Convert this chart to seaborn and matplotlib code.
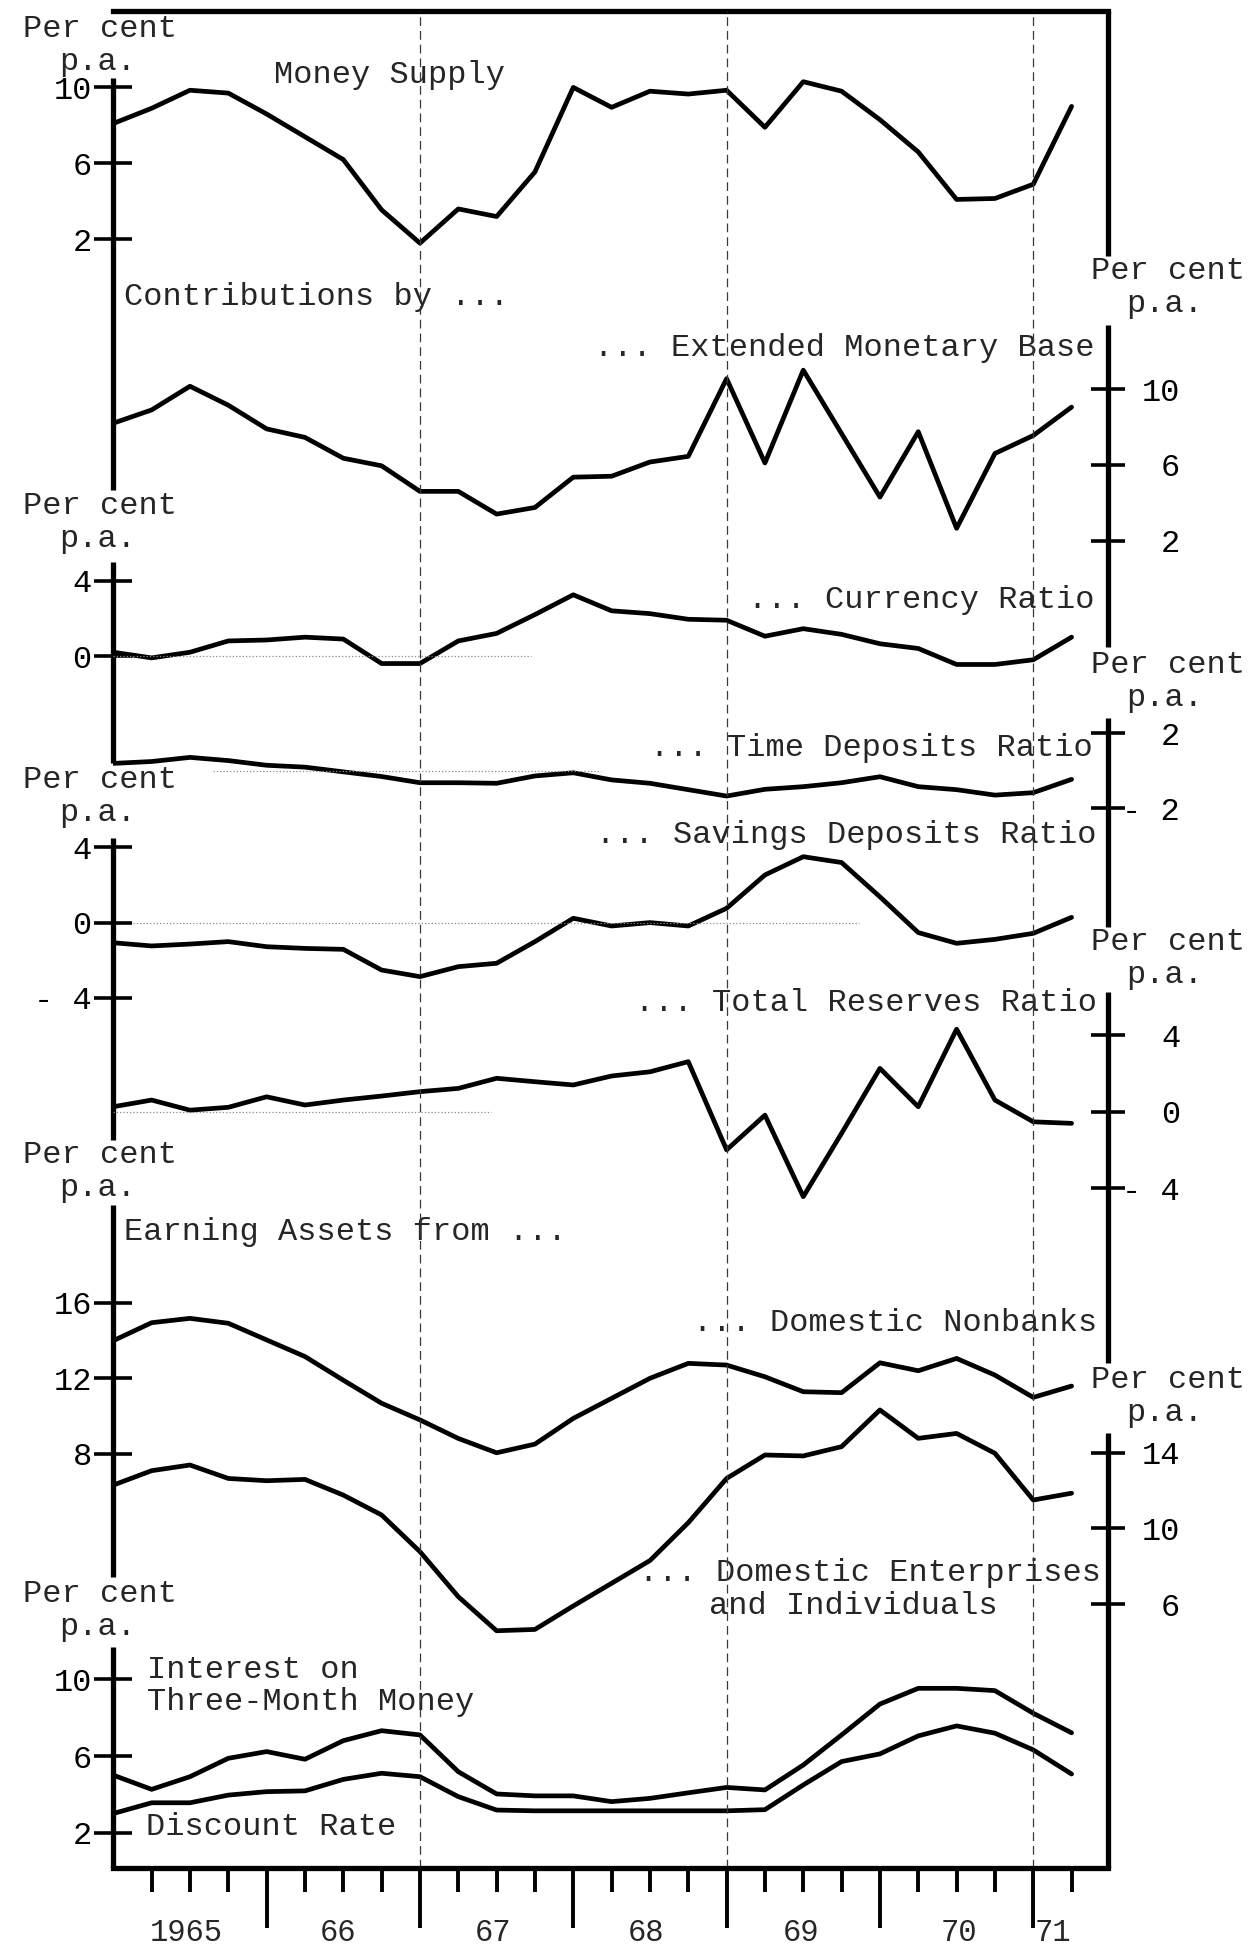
import numpy as np
import pandas as pd
import matplotlib.pyplot as plt
import seaborn as sns

# quarter number: 0 = 1965 Q1 ... 25 = 1971 Q2
quarter = list(range(26))

money_supply = [8.1, 8.9, 9.85, 9.7, 8.6, 7.4, 6.2, 3.55, 1.8, 3.6, 3.2, 5.55, 10.0,
                8.95, 9.8, 9.65, 9.85, 7.9, 10.3, 9.8, 8.3, 6.6, 4.1, 4.15, 4.9, 9.0]
ext_monetary_base = [8.2, 8.9, 10.15, 9.15, 7.9, 7.45, 6.35, 5.95, 4.6, 4.6, 3.4, 3.75, 5.35,
                     5.4, 6.15, 6.45, 10.55, 6.1, 11.0, 7.65, 4.3, 7.75, 2.65, 6.6, 7.55, 9.05]
currency_ratio = [0.2, -0.1, 0.2, 0.8, 0.85, 1.0, 0.9, -0.4, -0.4, 0.8, 1.2, 2.2, 3.25,
                  2.4, 2.25, 1.95, 1.9, 1.05, 1.45, 1.15, 0.65, 0.4, -0.45, -0.45, -0.2, 1.0]
time_deposits_ratio = [0.4, 0.5, 0.72, 0.55, 0.3, 0.2, -0.05, -0.3, -0.63, -0.63, -0.66, -0.27, -0.1,
                       -0.48, -0.66, -1.0, -1.34, -0.98, -0.84, -0.63, -0.31, -0.84, -1.0, -1.29, -1.16, -0.45]
savings_deposits_ratio = [-1.07, -1.24, -1.14, -1.01, -1.28, -1.37, -1.42, -2.52, -2.87, -2.34, -2.16, -1.01, 0.23,
                          -0.18, 0.0, -0.18, 0.76, 2.53, 3.5, 3.19, 1.37, -0.53, -1.1, -0.89, -0.57, 0.28]
total_reserves_ratio = [0.26, 0.61, 0.08, 0.23, 0.78, 0.35, 0.61, 0.82, 1.05, 1.22, 1.75, 1.57, 1.4,
                        1.87, 2.09, 2.62, -2.0, -0.18, -4.45, -1.13, 2.27, 0.26, 4.32, 0.61, -0.53, -0.61]
assets_nonbanks = [13.99, 14.94, 15.17, 14.91, 14.03, 13.15, 11.9, 10.68, 9.8, 8.82, 8.06, 8.52, 9.88,
                   10.94, 12.0, 12.79, 12.7, 12.08, 11.29, 11.24, 12.82, 12.4, 13.05, 12.17, 10.99, 11.59]
assets_enterprises = [12.29, 13.05, 13.35, 12.64, 12.52, 12.59, 11.76, 10.71, 8.77, 6.39, 4.59, 4.66, 5.9,
                      7.1, 8.3, 10.3, 12.64, 13.88, 13.83, 14.32, 16.26, 14.76, 15.02, 13.97, 11.5, 11.86]
three_month_money = [5.0, 4.26, 4.92, 5.88, 6.23, 5.83, 6.8, 7.32, 7.1, 5.18, 4.02, 3.92, 3.92,
                     3.62, 3.79, 4.08, 4.36, 4.23, 5.53, 7.1, 8.71, 9.53, 9.53, 9.41, 8.23, 7.21]
discount_rate = [3.0, 3.56, 3.56, 3.96, 4.14, 4.18, 4.78, 5.1, 4.92, 3.88, 3.18, 3.14, 3.14,
                 3.14, 3.14, 3.14, 3.14, 3.2, 4.49, 5.71, 6.11, 7.05, 7.57, 7.19, 6.32, 5.06]

year_labels = ["1965", "66", "67", "68", "69", "70", "71"]
year_label_pos = [1.9, 5.85, 9.9, 13.9, 17.95, 22.05, 24.5]

df = pd.DataFrame({
    "quarter": quarter,
    "money": money_supply, "emb": ext_monetary_base, "currency": currency_ratio,
    "time": time_deposits_ratio, "savings": savings_deposits_ratio,
    "reserves": total_reserves_ratio, "nonbanks": assets_nonbanks,
    "enterprises": assets_enterprises, "three_month": three_month_money,
    "discount": discount_rate,
})

# page geometry in pixels
W, H, DPI = 1257, 1951, 100
LEFT, RIGHT, TOP, BOTTOM = 113.3, 1108.0, 11.0, 1868.0
Q_RIGHT = 25.95
FS = 23
LW = 3.4

sns.set_theme(style="white")
plt.rcParams["font.family"] = ["Liberation Mono", "DejaVu Sans Mono"]

fig = plt.figure(figsize=(W / DPI, H / DPI), dpi=DPI)
rect = [LEFT / W, 1 - BOTTOM / H, (RIGHT - LEFT) / W, (BOTTOM - TOP) / H]

# background axes in pixel units for frame pieces and texts
bg = fig.add_axes([0, 0, 1, 1])
bg.set_xlim(0, W)
bg.set_ylim(H, 0)
bg.axis("off")


def panel(cols, side, v0, y0, scale, ticks, labels, zero=None):
    ax = fig.add_axes(rect)
    ax.patch.set_visible(False)
    for c in cols:
        sns.lineplot(data=df, x="quarter", y=c, ax=ax, color="black",
                     linewidth=LW, solid_joinstyle="round")
    ax.set_xlim(0, Q_RIGHT)
    # value v0 sits at pixel y0, "scale" pixels per unit
    ax.set_ylim(v0 - (BOTTOM - y0) / scale, v0 + (y0 - TOP) / scale)
    for s in ax.spines.values():
        s.set_visible(False)
    ax.set(xlabel="", ylabel="")
    ax.tick_params(axis="x", bottom=False, top=False, labelbottom=False)
    ax.set_yticks(ticks, labels)
    if side == "left":
        ax.yaxis.tick_left()
        ax.tick_params(axis="y", left=True, direction="inout", length=28, width=2.6,
                       pad=1.5, labelsize=FS, colors="black")
    else:
        ax.yaxis.tick_right()
        ax.tick_params(axis="y", right=True, direction="inout", length=25, width=2.6,
                       pad=39.5, labelsize=FS, colors="black")
        for t in ax.get_yticklabels():
            t.set_ha("right")
    if zero is not None:
        ax.axhline(0, xmin=zero[0], xmax=zero[1], color="#8a8a8a", lw=0.9, ls=":")
    return ax


ax1 = panel(["money"], "left", 10, 87.4, 18.99, [10, 6, 2], ["10", "6", "2"])
panel(["emb"], "right", 10, 389.1, 18.94, [10, 6, 2], ["10", "6", "2"])
panel(["currency"], "left", 0, 656.0, 18.83, [4, 0], ["4", "0"], zero=(0, 0.42))
panel(["time"], "right", 0, 770.9, 18.77, [2, -2], ["2", "- 2"], zero=(0.1, 0.49))
panel(["savings"], "left", 0, 922.6, 18.83, [4, 0, -4], ["4", "0", "- 4"], zero=(0.02, 0.75))
panel(["reserves"], "right", 0, 1111.7, 19.09, [4, 0, -4], ["4", "0", "- 4"], zero=(0, 0.38))
panel(["nonbanks"], "left", 12, 1378.3, 18.91, [16, 12, 8], ["16", "12", "8"])
panel(["enterprises"], "right", 10, 1528.4, 18.92, [14, 10, 6], ["14", "10", "6"])
ax9 = panel(["three_month", "discount"], "left", 6, 1756.0, 19.17, [10, 6, 2], ["10", "6", "2"])

# top rule and bottom time axis
ax1.spines["top"].set_visible(True)
ax1.spines["top"].set_linewidth(3.8)
ax1.spines["top"].set_color("black")
ax9.spines["bottom"].set_visible(True)
ax9.spines["bottom"].set_linewidth(3.8)
ax9.spines["bottom"].set_color("black")
ax9.set_xticks([4, 8, 12, 16, 20, 24])
ax9.set_xticks([q for q in quarter if q % 4 != 0], minor=True)
ax9.tick_params(axis="x", which="major", bottom=True, direction="out", length=43,
                width=2.8, labelbottom=False, color="black")
ax9.tick_params(axis="x", which="minor", bottom=True, direction="out", length=17,
                width=2.8, labelbottom=False, color="black")
for pos, lab in zip(year_label_pos, year_labels):
    ax9.text(pos, -0.035, lab, transform=ax9.get_xaxis_transform(),
             ha="center", va="center", fontsize=FS - 1)
for q in [8, 16, 24]:
    ax9.axvline(q, color="#3a3a3a", lw=0.9, ls=(0, (7, 4)))

# broken left and right spines (gaps leave room for the unit labels)
for y_a, y_b in [(78, 490), (562, 763), (838, 1140), (1205, 1577), (1647, 1868)]:
    bg.plot([LEFT, LEFT], [y_a, y_b], color="black", lw=3.8, solid_capstyle="butt")
for y_a, y_b in [(11, 256), (325, 647), (718, 927), (992, 1363), (1433, 1868)]:
    bg.plot([RIGHT, RIGHT], [y_a, y_b], color="black", lw=3.8, solid_capstyle="butt")

# unit labels
for yc in [29, 506, 780, 1155, 1594]:
    bg.text(100, yc, "Per cent", ha="center", va="center", fontsize=FS)
    bg.text(98, yc + 33, "p.a.", ha="center", va="center", fontsize=FS)
for yc in [271, 665, 942, 1380]:
    bg.text(1168, yc, "Per cent", ha="center", va="center", fontsize=FS)
    bg.text(1165, yc + 33, "p.a.", ha="center", va="center", fontsize=FS)

# series titles
bg.text(274, 75, "Money Supply", ha="left", va="center", fontsize=FS)
bg.text(124, 297, "Contributions by ...", ha="left", va="center", fontsize=FS)
bg.text(1095, 348, "... Extended Monetary Base", ha="right", va="center", fontsize=FS)
bg.text(1095, 600, "... Currency Ratio", ha="right", va="center", fontsize=FS)
bg.text(1093, 748, "... Time Deposits Ratio", ha="right", va="center", fontsize=FS)
bg.text(1097, 835, "... Savings Deposits Ratio", ha="right", va="center", fontsize=FS)
bg.text(1097, 1003, "... Total Reserves Ratio", ha="right", va="center", fontsize=FS)
bg.text(124, 1232, "Earning Assets from ...", ha="left", va="center", fontsize=FS)
bg.text(1097, 1323, "... Domestic Nonbanks", ha="right", va="center", fontsize=FS)
bg.text(1101, 1573, "... Domestic Enterprises", ha="right", va="center", fontsize=FS)
bg.text(709, 1606, "and Individuals", ha="left", va="center", fontsize=FS)
bg.text(147, 1670, "Interest on", ha="left", va="center", fontsize=FS)
bg.text(147, 1702, "Three-Month Money", ha="left", va="center", fontsize=FS)
bg.text(146, 1827, "Discount Rate", ha="left", va="center", fontsize=FS)

fig.savefig("out.png", dpi=DPI, facecolor="white")
